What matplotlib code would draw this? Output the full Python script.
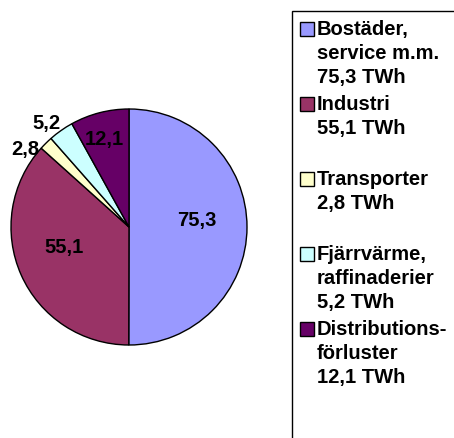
import numpy as np
import matplotlib
matplotlib.use("Agg")
import matplotlib.pyplot as plt
from matplotlib.patches import Rectangle

# data
values = [75.3, 55.1, 2.8, 5.2, 12.1]
value_labels = ["75,3", "55,1", "2,8", "5,2", "12,1"]
legend_labels = ["Bostäder,\nservice m.m.\n75,3 TWh",
                 "Industri\n55,1 TWh",
                 "Transporter\n2,8 TWh",
                 "Fjärrvärme,\nraffinaderier\n5,2 TWh",
                 "Distributions-\nförluster\n12,1 TWh"]
colors = ["#9999FF", "#993366", "#FFFFCC", "#CCFFFF", "#660066"]

# label placement (radius fraction, angle nudge in degrees)
label_r = [0.58, 0.58, 1.10, 1.13, 0.78]
label_da = [6, -7, 8, 3, 1]

W, H = 454, 439
fig = plt.figure(figsize=(W / 100, H / 100), dpi=100)
plt.rcParams['font.family'] = ['Liberation Sans', 'DejaVu Sans']
FS = 14.5

cx, cy, R = 129, 228, 118
ax = fig.add_axes([(cx - R) / W, (H - cy - R) / H, 2 * R / W, 2 * R / H])
wedges, _ = ax.pie(values, colors=colors, startangle=90, counterclock=False,
                   wedgeprops=dict(edgecolor="black", linewidth=1.0))
ax.set_xlim(-1, 1)
ax.set_ylim(-1, 1)
ax.axis("off")

for w, lab, r, da in zip(wedges, value_labels, label_r, label_da):
    ang = np.deg2rad((w.theta1 + w.theta2) / 2 + da)
    ax.text(r * np.cos(ang), r * np.sin(ang), lab, ha="center", va="center",
            fontsize=FS, fontweight="bold", clip_on=False)

# legend box
fig.patches.append(Rectangle((292 / W, -0.1), 1.0, (H - 12) / H + 0.1,
                             transform=fig.transFigure, facecolor="white",
                             edgecolor="black", linewidth=1.0, zorder=0))
for i, (lab, c) in enumerate(zip(legend_labels, colors)):
    base = 38 + 75 * i
    fig.patches.append(Rectangle((300 / W, 1 - (base - 1) / H), 14 / W, 14 / H,
                                 transform=fig.transFigure, facecolor=c,
                                 edgecolor="black", linewidth=1.0))
    fig.text(317 / W, 1 - (base - 18) / H, lab, ha="left", va="top",
             fontsize=FS, fontweight="bold", linespacing=1.32)

fig.savefig("out.png", dpi=100)
